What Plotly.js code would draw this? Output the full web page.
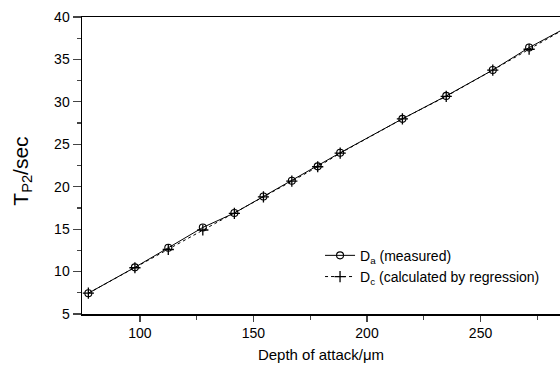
<!DOCTYPE html>
<html><head><meta charset="utf-8">
<script src="https://cdn.plot.ly/plotly-3.0.1.min.js"></script>
<style>html,body{margin:0;padding:0;background:#fff}#chart{width:560px;height:367px}</style>
</head><body><div id="chart"></div>
<script>
const depthA = [77.3, 97.8, 112.5, 127.7, 141.6, 154.4, 166.9, 178.3, 188.2, 215.6, 234.9, 255.4, 271.4, 291];
const timeA  = [7.45, 10.5, 12.8, 15.2, 16.9, 18.85, 20.7, 22.4, 24.0, 28.0, 30.7, 33.75, 36.4, 39.2];
const depthC = [77.3, 97.8, 112.5, 127.7, 141.6, 154.4, 166.9, 178.3, 188.2, 215.6, 234.9, 255.4, 271.4, 291];
const timeC  = [7.45, 10.45, 12.6, 14.9, 16.85, 18.8, 20.65, 22.35, 23.95, 28.0, 30.65, 33.75, 36.2, 39.2];
const nameA = "D<sub>a</sub> (measured)";
const nameC = "D<sub>c</sub> (calculated by regression)";
const xTicks = [100, 150, 200, 250];
const yTicks = [5, 10, 15, 20, 25, 30, 35, 40];
const yTitle = "T<sub>P2</sub>/sec";
const xTitle = "Depth of attack/μm";

const traces = [
  {x: depthA, y: timeA, name: nameA, type: 'scatter', mode: 'lines+markers', cliponaxis: true,
   line: {color: '#000', width: 1}, marker: {symbol: 'circle-open', size: 7, color: '#000', line: {width: 1.1}}},
  {x: depthC, y: timeC, name: nameC, type: 'scatter', mode: 'lines+markers', cliponaxis: true,
   line: {color: '#000', width: 1, dash: 'dot'}, marker: {symbol: 'cross-thin-open', size: 8, color: '#000', line: {width: 1.3}}}
];
const layout = {
  width: 560, height: 367,
  margin: {l: 82, r: 0, t: 17, b: 53},
  paper_bgcolor: '#fff', plot_bgcolor: '#fff',
  font: {family: 'Liberation Sans, Arial, sans-serif', color: '#000', size: 14},
  showlegend: true,
  legend: {x: 0.498, y: 0.25, xanchor: 'left', yanchor: 'top', bgcolor: 'rgba(0,0,0,0)',
           font: {size: 14}, tracegroupgap: 0, itemwidth: 30},
  xaxis: {range: [74.5, 285], tickvals: xTicks, ticks: 'outside', ticklen: 6, tickwidth: 1.2,
          showgrid: false, zeroline: false, showline: true, linewidth: 1.5, linecolor: '#000', mirror: true,
          minor: {tickvals: [125, 175, 225, 275], ticks: 'outside', ticklen: 4, tickwidth: 1.2, showgrid: false},
          tickfont: {size: 14},
          title: {text: xTitle, font: {size: 15}, standoff: 9}},
  yaxis: {range: [5, 40], tickvals: yTicks, ticks: 'outside', ticklen: 8, tickwidth: 1.2,
          showgrid: false, zeroline: false, showline: true, linewidth: 1.5, linecolor: '#000',
          minor: {tickvals: [7.5, 12.5, 17.5, 22.5, 27.5, 32.5, 37.5], ticks: 'outside', ticklen: 4, tickwidth: 1.2, showgrid: false},
          tickfont: {size: 14}},
  annotations: [{text: yTitle, xref: 'paper', yref: 'paper', x: -0.125, y: 0.48,
                 xanchor: 'center', yanchor: 'middle', textangle: -90, showarrow: false,
                 font: {size: 21, color: '#000'}}]
};
Plotly.newPlot('chart', traces, layout, {displayModeBar: false, staticPlot: true});
</script></body></html>
